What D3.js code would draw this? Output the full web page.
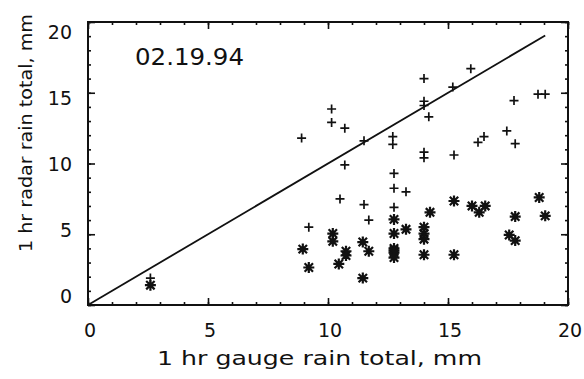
<!DOCTYPE html>
<html lang="en">
<head>
<meta charset="utf-8">
<title>Radar vs gauge</title>
<script src="https://cdn.jsdelivr.net/npm/d3@7"></script>
<style>
  body { margin: 0; background: #fff; }
  text { font-family: "DejaVu Sans", sans-serif; fill: #111; }
</style>
</head>
<body>
<script>
// gauge / radar pairs, plus-sign series
var plusGauge = [2.6, 8.9, 9.2, 10.15, 10.15, 10.7, 10.7, 10.5, 11.5, 11.5, 11.7, 12.7, 12.7, 12.75, 12.75, 12.75, 13.25,
                 14.0, 14.0, 14.0, 14.2, 14.0, 14.0, 15.2, 15.25, 15.95, 16.25, 16.5, 17.45, 17.75, 17.8, 18.75, 19.05];
var plusRadar = [1.9, 11.8, 5.5, 13.85, 12.9, 12.5, 9.9, 7.5, 11.6, 7.1, 6.0, 11.9, 11.35, 9.3, 8.25, 6.9, 8.0,
                 16.0, 14.4, 14.1, 13.3, 10.8, 10.4, 15.4, 10.6, 16.7, 11.5, 11.9, 12.3, 14.45, 11.4, 14.9, 14.9];
// asterisk series
var starGauge = [2.6, 8.95, 9.2, 10.2, 10.2, 10.45, 10.75, 10.75, 11.45, 11.45, 11.7, 12.75, 12.75, 12.75, 12.75, 12.75, 12.75,
                 13.25, 14.0, 14.0, 14.0, 14.0, 14.25, 15.25, 15.25, 16.0, 16.55, 16.3, 17.55, 17.8, 17.8, 18.8, 19.05];
var starRadar = [1.4, 3.95, 2.65, 5.05, 4.5, 2.9, 3.8, 3.5, 4.45, 1.9, 3.8, 6.05, 5.05, 4.0, 3.85, 3.7, 3.35,
                 5.35, 5.5, 5.05, 4.65, 3.55, 6.55, 7.35, 3.55, 7.0, 7.0, 6.55, 4.95, 4.55, 6.25, 7.6, 6.3];
var majorTicks = [0, 5, 10, 15, 20];
var minorTicks = d3.range(0, 21, 1);
var oneToOne = [0, 19.05];
var dateLabel = "02.19.94";

var width = 584, height = 379;
// note: "top" is taken by window.top, so use plot* names
var plotL = 88, plotR = 568, plotT = 22, plotB = 305;

var svg = d3.select("body").append("svg")
    .attr("width", width)
    .attr("height", height);

var x = d3.scaleLinear().domain([0, 20]).range([plotL, plotR]);
var y = d3.scaleLinear().domain([0, 20]).range([plotB, plotT]);
// the y labels sit slightly squeezed in the original scan
var yLab = d3.scaleLinear().domain([0, 20]).range([296, 32]);

// ticks on all four sides, pointing inward
function addAxis(axis, tx, ty, size, values) {
    var g = svg.append("g")
        .attr("transform", "translate(" + tx + "," + ty + ")")
        .call(axis.tickValues(values).tickSize(size).tickFormat(""));
    g.select(".domain").remove();
    g.selectAll("line").attr("stroke", "#111").attr("stroke-width", 1.6);
}
addAxis(d3.axisBottom(x), 0, plotB, -3, minorTicks);
addAxis(d3.axisBottom(x), 0, plotB, -7, majorTicks);
addAxis(d3.axisTop(x), 0, plotT, -3, minorTicks);
addAxis(d3.axisTop(x), 0, plotT, -7, majorTicks);
addAxis(d3.axisLeft(y), plotL, 0, -3, minorTicks);
addAxis(d3.axisLeft(y), plotL, 0, -7, majorTicks);
addAxis(d3.axisRight(y), plotR, 0, -3, minorTicks);
addAxis(d3.axisRight(y), plotR, 0, -7, majorTicks);

svg.append("rect")
    .attr("x", plotL).attr("y", plotT)
    .attr("width", plotR - plotL).attr("height", plotB - plotT)
    .attr("fill", "none")
    .attr("stroke", "#111")
    .attr("stroke-width", 2);

// tick labels
svg.selectAll(".xl").data(majorTicks).join("text")
    .attr("x", d => x(d) + 2)
    .attr("y", 337)
    .attr("text-anchor", "middle")
    .attr("font-size", 19)
    .text(d => d);

svg.selectAll(".yl").data(majorTicks).join("text")
    .attr("x", 72)
    .attr("y", d => yLab(d) + 7)
    .attr("text-anchor", "end")
    .attr("font-size", 19)
    .text(d => d);

svg.append("text")
    .attr("x", 157).attr("y", 365)
    .attr("font-size", 19)
    .attr("textLength", 325)
    .attr("lengthAdjust", "spacingAndGlyphs")
    .text("1 hr gauge rain total, mm");

svg.append("text")
    .attr("transform", "translate(32,252) rotate(-90)")
    .attr("font-size", 17)
    .attr("textLength", 238)
    .attr("lengthAdjust", "spacingAndGlyphs")
    .text("1 hr radar rain total, mm");

svg.append("text")
    .attr("x", 135).attr("y", 65)
    .attr("font-size", 23)
    .attr("textLength", 109)
    .attr("lengthAdjust", "spacingAndGlyphs")
    .text(dateLabel);

// 1:1 line
svg.append("line")
    .attr("x1", x(oneToOne[0])).attr("y1", y(oneToOne[0]))
    .attr("x2", x(oneToOne[1])).attr("y2", y(oneToOne[1]))
    .attr("stroke", "#111")
    .attr("stroke-width", 1.8);

// plus markers
var plusPts = plusGauge.map((g, i) => [g, plusRadar[i]]);
svg.append("g").selectAll("path").data(plusPts).join("path")
    .attr("d", d => {
        var cx = x(d[0]), cy = y(d[1]), r = 4.5;
        return "M" + (cx - r) + "," + cy + "H" + (cx + r) + "M" + cx + "," + (cy - r) + "V" + (cy + r);
    })
    .attr("stroke", "#111")
    .attr("stroke-width", 1.7)
    .attr("fill", "none");

// asterisk markers
var starPts = starGauge.map((g, i) => [g, starRadar[i]]);
svg.append("g").selectAll("path").data(starPts).join("path")
    .attr("d", d => {
        var cx = x(d[0]), cy = y(d[1]), r = 5.5, s = 4.2;
        return "M" + (cx - r) + "," + cy + "H" + (cx + r) +
            "M" + cx + "," + (cy - r) + "V" + (cy + r) +
            "M" + (cx - s) + "," + (cy - s) + "L" + (cx + s) + "," + (cy + s) +
            "M" + (cx - s) + "," + (cy + s) + "L" + (cx + s) + "," + (cy - s);
    })
    .attr("stroke", "#111")
    .attr("stroke-width", 2.2)
    .attr("fill", "none");
</script>
</body>
</html>
